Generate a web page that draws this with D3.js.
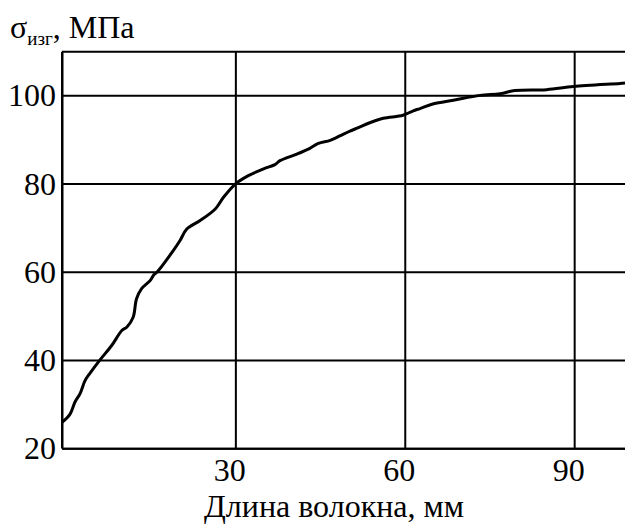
<!DOCTYPE html>
<html><head><meta charset="utf-8">
<script src="https://cdn.jsdelivr.net/npm/d3@7"></script>
<style>body{margin:0;background:#fff}svg{display:block}</style>
</head><body>
<script>
const lengthMm = [-0.7,0.7,1.6,2.5,3.4,4.3,6.0,8.1,9.9,10.8,11.9,12.5,13.4,14.9,15.6,16.1,19.0,20.2,21.4,23.7,26.4,27.9,30.0,32.3,34.9,37.0,37.9,40.9,43.2,44.7,46.8,48.5,50.3,51.8,53.8,56.2,59.7,61.5,62.7,65.1,68.6,73.3,76.9,79.5,85.1,89.9,98.1,99.0];
const stress =   [25.9,27.7,30.5,32.4,35.4,37.1,40.0,43.3,46.7,47.5,49.7,53.9,56.2,58.0,59.4,59.9,64.8,67.1,69.7,71.6,74.2,76.9,79.9,81.8,83.3,84.3,85.2,86.7,88.0,89.1,89.8,90.8,91.9,92.7,93.8,94.8,95.5,96.5,97.0,98.1,98.9,100.0,100.4,101.1,101.3,102.0,102.7,102.8];
const xTicks = [30,60,90];
const yTicks = [20,40,60,80,100];
const xTitle = "Длина волокна, мм";

const W=625,H=527;
const svg=d3.select("body").append("svg").attr("width",W).attr("height",H);
const font="'Liberation Serif','Times New Roman',serif";
const L=62,R=625,T=51.7,B=448.3;
const x=d3.scaleLinear().domain([-0.7,99]).range([L,R]);
const y=d3.scaleLinear().domain([20,109.9]).range([B,T]);

// frame
svg.append("line").attr("x1",L).attr("x2",R).attr("y1",T).attr("y2",T).attr("stroke","#000").attr("stroke-width",2);

const gy=svg.append("g").attr("transform",`translate(${L},0)`)
  .call(d3.axisLeft(y).tickValues(yTicks).tickSize(-(R-L)).tickSizeOuter(0).tickPadding(6).tickFormat(d3.format("d")));
const gx=svg.append("g").attr("transform",`translate(0,${B})`)
  .call(d3.axisBottom(x).tickValues(xTicks).tickSize(-(B-T)).tickSizeOuter(0).tickPadding(10).tickFormat(d3.format("d")));
svg.append("line").attr("x1",L).attr("x2",L).attr("y1",T).attr("y2",B).attr("stroke","#000").attr("stroke-width",2);
[gx,gy].forEach(g=>{
  g.select(".domain").attr("stroke","#000").attr("stroke-width",2);
  g.selectAll(".tick line").attr("stroke","#000").attr("stroke-width",2);
  g.selectAll("text").attr("font-family",font).attr("font-size",32).attr("fill","#000");
});
gy.selectAll(".tick text").attr("dy","0.33em");
gx.selectAll(".tick text").attr("dx",-6).attr("dy","0.72em");

svg.append("path").datum(lengthMm.map((d,i)=>[d,stress[i]]))
  .attr("fill","none").attr("stroke","#000").attr("stroke-width",3).attr("stroke-linejoin","round")
  .attr("d",d3.line().x(d=>x(d[0])).y(d=>y(d[1])).curve(d3.curveCatmullRom));

// y title
const t=svg.append("text").attr("x",10).attr("y",38).attr("font-family",font).attr("font-size",32).attr("fill","#000");
t.append("tspan").text("σ");
t.append("tspan").attr("font-size",19).attr("dy",7).text("изг");
t.append("tspan").attr("dy",-7).text(", МПа");

svg.append("text").attr("x",334).attr("y",517).attr("text-anchor","middle")
  .attr("font-family",font).attr("font-size",32).attr("fill","#000").text(xTitle);
</script>
</body></html>
